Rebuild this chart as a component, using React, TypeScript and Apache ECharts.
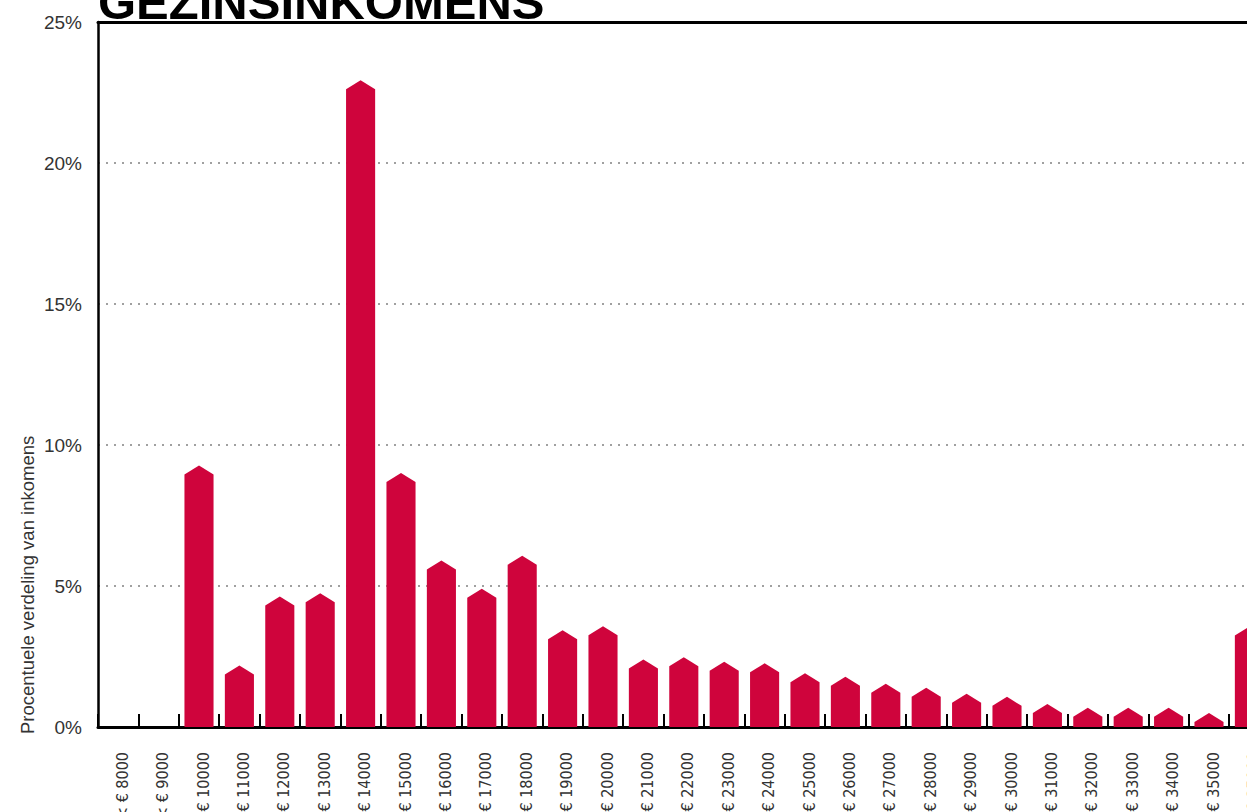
import React, { useEffect, useRef } from "react";
import * as echarts from "echarts";

const categories = [
  "< € 8000", "< € 9000", "< € 10000", "< € 11000", "< € 12000", "< € 13000", "< € 14000",
  "< € 15000", "< € 16000", "< € 17000", "< € 18000", "< € 19000", "< € 20000", "< € 21000",
  "< € 22000", "< € 23000", "< € 24000", "< € 25000", "< € 26000", "< € 27000", "< € 28000",
  "< € 29000", "< € 30000", "< € 31000", "< € 32000", "< € 33000", "< € 34000", "< € 35000",
  "> € 35000",
];

const shares = [
  0, 0, 9.27, 2.18, 4.63, 4.74, 22.93,
  9.01, 5.9, 4.9, 6.07, 3.43, 3.57, 2.39,
  2.47, 2.31, 2.26, 1.91, 1.78, 1.53, 1.39,
  1.18, 1.07, 0.82, 0.68, 0.68, 0.68, 0.5,
  3.56,
];

const yTicks = [0, 5, 10, 15, 20, 25];

const TITLE = "GEZINSINKOMENS";
const Y_NAME = "Procentuele verdeling van inkomens";

export default function App() {
  const ref = useRef<HTMLDivElement>(null);

  useEffect(() => {
    if (!ref.current) return;
    const chart = echarts.init(ref.current, undefined, { renderer: "svg" });
    const red = "#CF043C";
    chart.setOption({
      animation: false,
      backgroundColor: "#ffffff",
      grid: {
        left: 98,
        top: 22,
        bottom: 85,
        width: 29 * 40.4,
        containLabel: false,
        outerBoundsMode: "none",
      },
      graphic: [
        {
          type: "text",
          x: 98,
          y: 2,
          z: 10,
          style: {
            text: TITLE,
            fontFamily: "'Liberation Sans', Arial, sans-serif",
            fontWeight: "bold",
            fontSize: 49,
            fill: "#000",
            align: "left",
            verticalAlign: "middle",
          },
        },
        {
          type: "text",
          x: 27,
          y: 734,
          rotation: Math.PI / 2,
          style: {
            text: Y_NAME,
            fontFamily: "'Liberation Sans', Arial, sans-serif",
            fontSize: 18.5,
            fill: "#333",
            align: "left",
            verticalAlign: "middle",
          },
        },
      ],
      xAxis: [
        {
          type: "category",
          data: categories,
          boundaryGap: true,
          axisLine: { show: true, lineStyle: { color: "#000", width: 3 } },
          axisTick: {
            show: true,
            inside: true,
            length: 13,
            interval: 0,
            alignWithLabel: false,
            lineStyle: { color: "#000", width: 2 },
          },
          axisLabel: {
            interval: 0,
            rotate: 90,
            margin: 25,
            fontSize: 16,
            lineHeight: 8,
            align: "right",
            verticalAlign: "top",
            color: "#333",
            fontFamily: "'Liberation Sans Narrow', 'Arial Narrow', 'DejaVu Sans Condensed', sans-serif",
          },
          splitLine: { show: false },
        },
        {
          type: "category",
          data: categories,
          position: "top",
          axisLine: { show: true, lineStyle: { color: "#000", width: 3 } },
          axisTick: { show: false },
          axisLabel: { show: false },
          splitLine: { show: false },
        },
      ],
      yAxis: {
        type: "value",
        min: yTicks[0],
        max: yTicks[yTicks.length - 1],
        interval: 5,
        axisLine: { show: true, lineStyle: { color: "#000", width: 2.5 } },
        axisTick: { show: false },
        axisLabel: {
          formatter: "{value}%",
          fontSize: 19,
          color: "#333",
          margin: 16,
          fontFamily: "'Liberation Sans', Arial, sans-serif",
        },
        splitLine: {
          show: true,
          lineStyle: { color: "#a0a0a0", width: 2, type: [2, 6] },
        },
      },
      series: [
        {
          type: "custom",
          coordinateSystem: "cartesian2d",
          xAxisIndex: 0,
          yAxisIndex: 0,
          encode: { x: 0, y: 1 },
          data: shares.map((v, i) => [i, v]),
          renderItem: (params: any, api: any) => {
            const idx = api.value(0);
            const val = api.value(1);
            if (!val) return null;
            const top = api.coord([idx, val]);
            const base = api.coord([idx, 0]);
            const bw = api.size([1, 0])[0] * 0.72;
            const cx = top[0];
            const shoulder = Math.min(top[1] + 9, base[1]);
            return {
              type: "polygon",
              shape: {
                points: [
                  [cx - bw / 2, base[1]],
                  [cx - bw / 2, shoulder],
                  [cx, top[1]],
                  [cx + bw / 2, shoulder],
                  [cx + bw / 2, base[1]],
                ],
              },
              style: { fill: red },
            };
          },
        },
      ],
    });
    return () => chart.dispose();
  }, []);

  return (
    <div style={{ position: "fixed", left: 0, top: 0, width: "100vw", height: "100vh", overflow: "hidden", background: "#fff" }}>
      <div ref={ref} style={{ position: "absolute", left: 0, top: 0, width: 1300, height: 812 }} />
    </div>
  );
}
